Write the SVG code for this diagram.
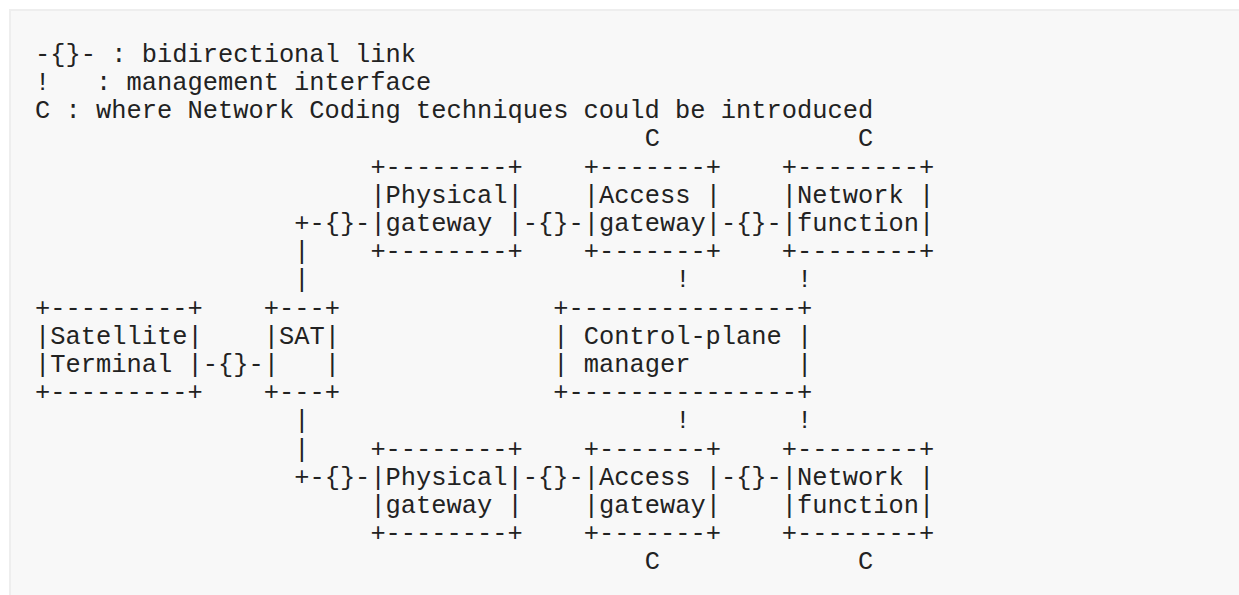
<svg xmlns="http://www.w3.org/2000/svg" width="1239" height="595" viewBox="0 0 1239 595" xml:space="preserve">
<style>
text{font-family:"Liberation Mono","DejaVu Sans Mono",monospace;font-size:25.4px;fill:#222;white-space:pre}
</style>
<rect x="10" y="10" width="1240" height="600" fill="#f8f8f8" stroke="#eeeeee" stroke-width="2"/>
<g id="legend">
<text x="35.1" y="61.8">-{}- : bidirectional link</text>
<text x="35.1" y="90">!   : management interface</text>
<text x="35.1" y="118.2">C : where Network Coding techniques could be introduced</text>
</g>
<g id="coding-markers">
<text x="644.7" y="146.4">C</text>
<text x="858.06" y="146.4">C</text>
<text x="644.7" y="569.4">C</text>
<text x="858.06" y="569.4">C</text>
</g>
<g id="physical-gateway-1">
<text x="370.38" y="174.6">+--------+</text>
<text x="370.38" y="202.8">|Physical|</text>
<text x="370.38" y="231">|gateway |</text>
<text x="370.38" y="259.2">+--------+</text>
</g>
<g id="access-gateway-1">
<text x="583.74" y="174.6">+-------+</text>
<text x="583.74" y="202.8">|Access |</text>
<text x="583.74" y="231">|gateway|</text>
<text x="583.74" y="259.2">+-------+</text>
</g>
<g id="network-function-1">
<text x="781.86" y="174.6">+--------+</text>
<text x="781.86" y="202.8">|Network |</text>
<text x="781.86" y="231">|function|</text>
<text x="781.86" y="259.2">+--------+</text>
</g>
<g id="satellite-terminal">
<text x="35.1" y="315.6">+---------+</text>
<text x="35.1" y="343.8">|Satellite|</text>
<text x="35.1" y="372">|Terminal |</text>
<text x="35.1" y="400.2">+---------+</text>
</g>
<g id="sat">
<text x="263.7" y="315.6">+---+</text>
<text x="263.7" y="343.8">|SAT|</text>
<text x="263.7" y="372">|   |</text>
<text x="263.7" y="400.2">+---+</text>
</g>
<g id="control-plane-manager">
<text x="553.26" y="315.6">+---------------+</text>
<text x="553.26" y="343.8">| Control-plane |</text>
<text x="553.26" y="372">| manager       |</text>
<text x="553.26" y="400.2">+---------------+</text>
</g>
<g id="physical-gateway-2">
<text x="370.38" y="456.6">+--------+</text>
<text x="370.38" y="484.8">|Physical|</text>
<text x="370.38" y="513">|gateway |</text>
<text x="370.38" y="541.2">+--------+</text>
</g>
<g id="access-gateway-2">
<text x="583.74" y="456.6">+-------+</text>
<text x="583.74" y="484.8">|Access |</text>
<text x="583.74" y="513">|gateway|</text>
<text x="583.74" y="541.2">+-------+</text>
</g>
<g id="network-function-2">
<text x="781.86" y="456.6">+--------+</text>
<text x="781.86" y="484.8">|Network |</text>
<text x="781.86" y="513">|function|</text>
<text x="781.86" y="541.2">+--------+</text>
</g>
<g id="connectors">
<text x="294.18" y="231">+-{}-</text>
<text x="522.78" y="231">-{}-</text>
<text x="720.9" y="231">-{}-</text>
<text x="294.18" y="259.2">|</text>
<text x="294.18" y="287.4">|</text>
<text x="675.18" y="287.4">!</text>
<text x="797.1" y="287.4">!</text>
<text x="202.74" y="372">-{}-</text>
<text x="294.18" y="428.4">|</text>
<text x="675.18" y="428.4">!</text>
<text x="797.1" y="428.4">!</text>
<text x="294.18" y="456.6">|</text>
<text x="294.18" y="484.8">+-{}-</text>
<text x="522.78" y="484.8">-{}-</text>
<text x="720.9" y="484.8">-{}-</text>
</g>
</svg>
